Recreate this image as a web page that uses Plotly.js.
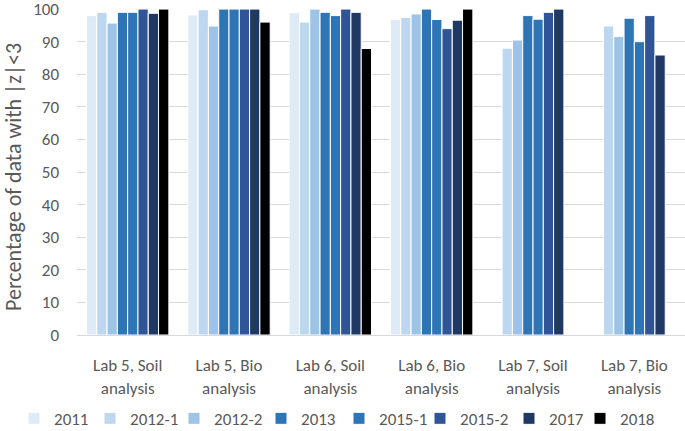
<!DOCTYPE html>
<html>
<head>
<meta charset="utf-8">
<script src="https://cdn.plot.ly/plotly-3.0.1.min.js"></script>
<style>html,body{margin:0;padding:0;background:#fff;}#chart{width:685px;height:431px;}</style>
</head>
<body>
<div id="chart"></div>
<script>
const categories = ["Lab 5, Soil<br>analysis", "Lab 5, Bio<br>analysis", "Lab 6, Soil<br>analysis", "Lab 6, Bio<br>analysis", "Lab 7, Soil<br>analysis", "Lab 7, Bio<br>analysis"];
const seriesNames = ["2011", "2012-1", "2012-2", "2013", "2015-1", "2015-2", "2017", "2018"];
const v2011  = [98.0, 98.2, 98.9, 96.8, null, null];
const v2012_1 = [99.0, 99.8, 96.0, 97.4, 88.0, 94.8];
const v2012_2 = [95.7, 94.8, 100, 98.5, 90.5, 91.6];
const v2013  = [99.0, 100, 99.0, 100, 98.0, 97.2];
const v2015_1 = [99.0, 100, 98.0, 96.8, 96.9, 90.0];
const v2015_2 = [100, 100, 100, 94.0, 99.0, 98.0];
const v2017  = [98.7, 100, 99.0, 96.6, 100, 85.9];
const v2018  = [100, 96.0, 87.9, 100, null, null];
const seriesValues = [v2011, v2012_1, v2012_2, v2013, v2015_1, v2015_2, v2017, v2018];
const colors = ["#DEEBF7", "#BDD7EE", "#9DC3E6", "#2E75B6", "#2E75B6", "#2F5597", "#203864", "#000000"];
const legendWidths = [31, 39, 42, 33, 36, 44, 26, 42];
const yTicks = [0,10,20,30,40,50,60,70,80,90,100];
const yTitle = "Percentage of data with |z|<3";

const font = "Carlito, Lato, 'Liberation Sans', sans-serif";
const traces = seriesNames.map((n, i) => ({
  type: "bar",
  name: n,
  x: categories,
  y: seriesValues[i],
  legendwidth: legendWidths[i],
  marker: {color: colors[i], line: {color: "#ffffff", width: 1}},
  hoverinfo: "none"
}));

const layout = {
  width: 685, height: 431,
  margin: {l: 77, r: 0, t: 9, b: 96, autoexpand: false},
  barmode: "group",
  bargap: 0.187,
  bargroupgap: 0,
  paper_bgcolor: "#fff",
  plot_bgcolor: "#fff",
  font: {family: font, size: 17, color: "#595959"},
  xaxis: {
    type: "category",
    showgrid: false,
    showline: true,
    linecolor: "#D9D9D9",
    linewidth: 1,
    ticks: "",
    tickfont: {family: font, size: 17, color: "#595959"},
    ticklabelstandoff: 15,
    range: [-0.5, 5.5]
  },
  yaxis: {
    range: [0, 100.02],
    tickvals: yTicks,
    ticktext: yTicks.map(String),
    showgrid: true,
    gridcolor: "#D9D9D9",
    gridwidth: 1,
    zeroline: false,
    showline: false,
    ticks: "",
    ticklabelstandoff: 17,
    ticklabeloverflow: "allow",
    tickfont: {family: font, size: 17, color: "#595959"}
  },
  annotations: [{
    text: yTitle,
    xref: "paper", yref: "paper",
    x: -0.1036, y: 0.485,
    xanchor: "center", yanchor: "middle",
    textangle: -90,
    showarrow: false,
    font: {family: font, size: 22, color: "#595959"}
  }],
  legend: {
    orientation: "h",
    xref: "paper", yref: "paper",
    x: -0.1036, xanchor: "left",
    y: -0.257, yanchor: "middle",
    font: {family: font, size: 17, color: "#595959"},
    traceorder: "normal",
    itemwidth: 30
  },
  showlegend: true
};

Plotly.newPlot("chart", traces, layout, {displayModeBar: false, staticPlot: true});
</script>
</body>
</html>
